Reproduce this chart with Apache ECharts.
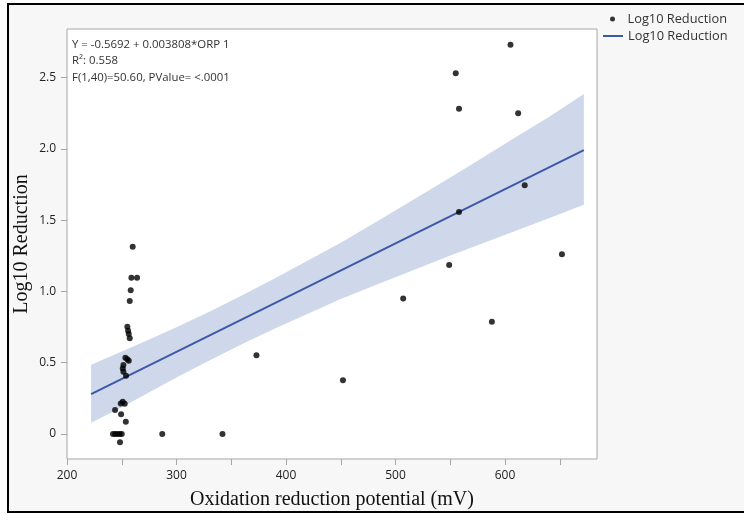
<!DOCTYPE html>
<html>
<head>
<meta charset="utf-8">
<script src="https://cdn.jsdelivr.net/npm/echarts@6/dist/echarts.min.js"></script>
<style>
html,body{margin:0;padding:0;background:#ffffff;overflow:hidden;}
#frame{position:absolute;left:7px;top:3px;width:740px;height:506px;border-top:2px solid #000;border-left:2px solid #000;border-bottom:2px solid #000;background:#f7f7f7;}
#chart{position:absolute;left:0;top:0;width:744px;height:515px;}
</style>
</head>
<body>
<div id="frame"></div>
<div id="chart"></div>
<script>
// Observed points (ORP in mV, Log10 Reduction)
const orp = [260.0, 258.8, 264.0, 258.2, 257.3, 255.1, 255.8, 256.4, 257.3, 253.3,
             255.1, 256.4, 251.5, 250.9, 251.5, 253.9, 250.9, 249.1, 252.7, 243.9,
             249.4, 253.7, 248.4, 242, 244, 246, 248, 250, 287, 342,
             373, 452, 507, 549, 588, 652, 605, 555, 558, 612, 618, 558];
const logRed = [1.313, 1.096, 1.096, 1.008, 0.933, 0.752, 0.725, 0.701, 0.671, 0.535,
                0.524, 0.514, 0.484, 0.460, 0.437, 0.409, 0.227, 0.215, 0.213, 0.168,
                0.138, 0.086, -0.058, 0, 0, 0, 0, 0, 0, 0,
                0.552, 0.377, 0.951, 1.185, 0.788, 1.26, 2.73, 2.53, 2.28, 2.25, 1.744, 1.557];
// Fit line endpoints
const fitX = [222, 672];
const fitY = [0.28, 1.99];
// Confidence band edges
const bandX  = [222,  250,   276,   300,   330,   360,   390,   420,   450,   486,   520,   550,   578,   610,   640,   672];
const bandLo = [0.08, 0.188, 0.297, 0.397, 0.516, 0.631, 0.740, 0.844, 0.946, 1.057, 1.161, 1.251, 1.333, 1.426, 1.513, 1.608];
const bandHi = [0.485,0.578, 0.667, 0.749, 0.858, 0.973, 1.092, 1.216, 1.342, 1.505, 1.661, 1.799, 1.931, 2.082, 2.223, 2.385];
// Ticks
const xLabels = [200, 300, 400, 500, 600];
const xTicks = [200, 250, 300, 350, 400, 450, 500, 550, 600, 650];
const yTicks = [0, 0.5, 1.0, 1.5, 2.0, 2.5];
const annotation = ['Y = -0.5692 + 0.003808*ORP 1', 'R\u00B2: 0.558', 'F(1,40)=50.60, PValue= <.0001'];
const legendLabel = 'Log10 Reduction';

const chart = echarts.init(document.getElementById('chart'), null, {renderer: 'canvas'});
const sans = '"Open Sans", "Noto Sans", sans-serif';
const serif = '"Liberation Serif", "DejaVu Serif", serif';
const legendText = {fontFamily: sans, fontSize: 12.8, color: '#333333', lineHeight: 14};

const option = {
  backgroundColor: 'transparent',
  animation: false,
  grid: {left: 67, top: 29, right: 147, bottom: 56, show: true, backgroundColor: '#ffffff',
         borderColor: '#a6a6a6', borderWidth: 1, containLabel: false, outerBoundsMode: 'none'},
  legend: [
    {
      orient: 'vertical', left: 605, top: 7, itemWidth: 20, itemHeight: 5, itemGap: 0,
      data: [{name: 'pts', icon: 'circle'}],
      formatter: function () { return legendLabel; },
      textStyle: legendText, selectedMode: false
    },
    {
      orient: 'vertical', left: 598, top: 24, itemWidth: 20, itemHeight: 2, itemGap: 0,
      data: [{name: 'fit', icon: 'rect'}],
      formatter: function () { return legendLabel; },
      textStyle: legendText, selectedMode: false
    }
  ],
  xAxis: {
    type: 'value', min: 200, max: 684,
    name: 'Oxidation reduction potential (mV)', nameLocation: 'middle', nameGap: 31,
    nameMoveOverlap: false,
    nameTextStyle: {fontFamily: serif, fontSize: 20, color: '#111111'},
    axisLine: {show: false, onZero: false},
    axisTick: {show: true, length: 6, lineStyle: {color: '#a6a6a6'}, customValues: xTicks},
    axisLabel: {customValues: xLabels, margin: 11, fontFamily: sans, fontSize: 12, color: '#222222'},
    splitLine: {show: false}
  },
  yAxis: {
    type: 'value', min: -0.175, max: 2.84,
    name: 'Log10 Reduction', nameLocation: 'middle', nameGap: 35, nameRotate: 90,
    nameMoveOverlap: false,
    nameTextStyle: {fontFamily: serif, fontSize: 20, color: '#111111'},
    axisLine: {show: false, onZero: false},
    axisTick: {show: true, length: 6, lineStyle: {color: '#a6a6a6'}, customValues: yTicks},
    axisLabel: {customValues: yTicks, margin: 11, fontFamily: sans, fontSize: 12, color: '#222222',
      formatter: function (v) { return v === 0 ? '0' : v.toFixed(1); }},
    splitLine: {show: false}
  },
  graphic: [{
    type: 'text', left: 72, top: 36, z: 100,
    style: {text: annotation.join('\n'), fontFamily: sans, fontSize: 11.4, lineHeight: 16.5, fill: '#333333'}
  }],
  series: [
    {
      name: 'band', type: 'custom', z: 1, silent: true,
      data: bandX.map((x, i) => [x, bandLo[i], bandHi[i]]),
      renderItem: function (params, api) {
        if (params.dataIndex !== 0) return null;
        const pts = [];
        for (let i = 0; i < bandX.length; i++) pts.push(api.coord([bandX[i], bandHi[i]]));
        for (let i = bandX.length - 1; i >= 0; i--) pts.push(api.coord([bandX[i], bandLo[i]]));
        return {type: 'polygon', shape: {points: pts}, style: {fill: '#cfd8ea'}};
      }
    },
    {
      name: 'fit', type: 'line', z: 3, showSymbol: false, symbol: 'none',
      data: fitX.map((x, i) => [x, fitY[i]]),
      lineStyle: {color: '#3c59a8', width: 2},
      itemStyle: {color: '#3c59a8'}
    },
    {
      name: 'pts', type: 'scatter', z: 4, symbol: 'circle', symbolSize: 6,
      data: orp.map((x, i) => [x, logRed[i]]),
      itemStyle: {color: '#000000'}
    }
  ]
};
chart.setOption(option);
</script>
</body>
</html>
